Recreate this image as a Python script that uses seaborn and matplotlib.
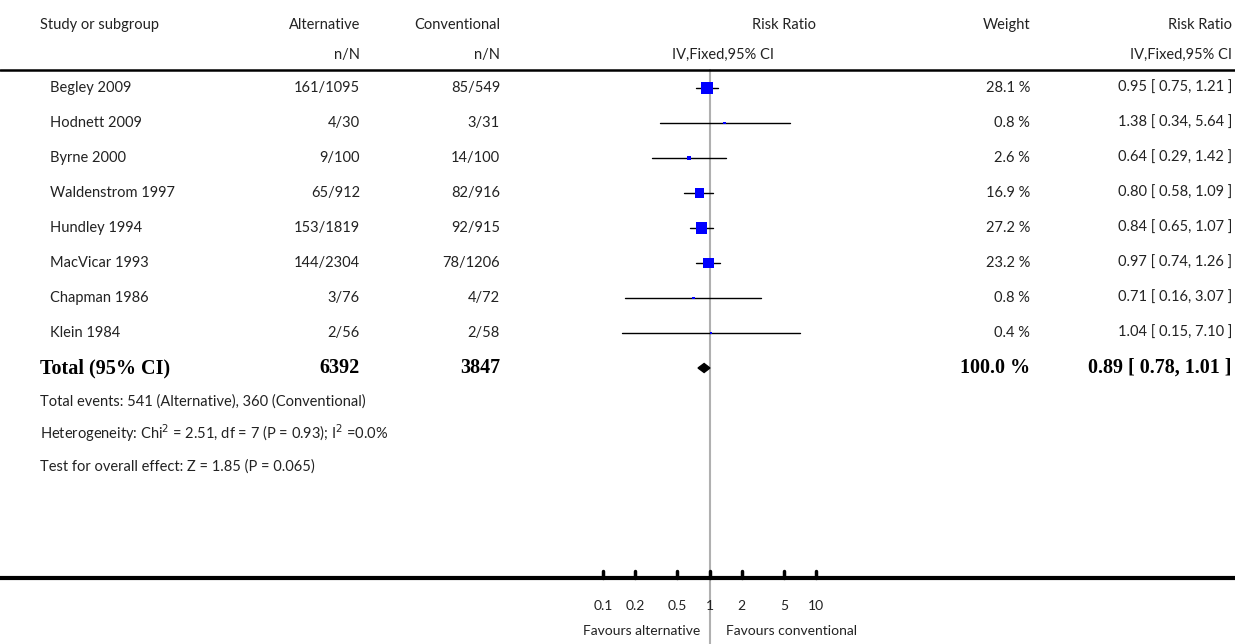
import numpy as np
import matplotlib
matplotlib.use('Agg')
import matplotlib.pyplot as plt
import seaborn as sns

sns.set_theme(style='white')
plt.rcParams['font.family'] = ['Lato', 'DejaVu Sans']

# Data
studies = ['Begley 2009', 'Hodnett 2009', 'Byrne 2000', 'Waldenstrom 1997',
           'Hundley 1994', 'MacVicar 1993', 'Chapman 1986', 'Klein 1984']
alt = ['161/1095', '4/30', '9/100', '65/912', '153/1819', '144/2304', '3/76', '2/56']
conv = ['85/549', '3/31', '14/100', '82/916', '92/915', '78/1206', '4/72', '2/58']
rr = [0.95, 1.38, 0.64, 0.80, 0.84, 0.97, 0.71, 1.04]
lo = [0.75, 0.34, 0.29, 0.58, 0.65, 0.74, 0.16, 0.15]
hi = [1.21, 5.64, 1.42, 1.09, 1.07, 1.26, 3.07, 7.10]
weight = [28.1, 0.8, 2.6, 16.9, 27.2, 23.2, 0.8, 0.4]
total_rr, total_lo, total_hi = 0.89, 0.78, 1.01
ticks = [0.1, 0.2, 0.5, 1, 2, 5, 10]
tick_labels = ['0.1', '0.2', '0.5', '1', '2', '5', '10']

W, H = 1235, 644
fig = plt.figure(figsize=(W / 100, H / 100), dpi=100)
ax = fig.add_axes([603 / W, 0, 213 / W, 1])
ax.set_xscale('log')
ax.set_xlim(0.1, 10)
ax.set_ylim(H, 0)
ax.axis('off')


def t(x, y, s, ha='left', **kw):
    kw.setdefault('fontsize', 10.5)
    kw.setdefault('color', '#222222')
    fig.text(x / W, 1 - y / H, s, ha=ha, va='center', **kw)


# Header
t(40, 25, 'Study or subgroup')
t(360, 25, 'Alternative', ha='right')
t(500, 25, 'Conventional', ha='right')
t(816, 25, 'Risk Ratio', ha='right')
t(1030, 25, 'Weight', ha='right')
t(1232, 25, 'Risk Ratio', ha='right')
t(360, 55, 'n/N', ha='right')
t(500, 55, 'n/N', ha='right')
t(774, 55, 'IV,Fixed,95% CI', ha='right')
t(1232, 55, 'IV,Fixed,95% CI', ha='right')

fig.add_artist(plt.Line2D([0, 1], [1 - 70 / H] * 2, color='black', lw=1.8))
ax.plot([1, 1], [70, H], color='#b0b0b0', lw=1.5, clip_on=False, zorder=1)

rows = 88 + 35 * np.arange(len(studies))
for i, y in enumerate(rows):
    t(50, y, studies[i])
    t(360, y, alt[i], ha='right')
    t(500, y, conv[i], ha='right')
    t(1030, y, f'{weight[i]:.1f} %', ha='right')
    t(1232, y, f'{rr[i]:.2f} [ {lo[i]:.2f}, {hi[i]:.2f} ]', ha='right')
    ax.plot([lo[i], hi[i]], [y, y], color='black', lw=1, zorder=2)
ax.scatter(rr, rows, marker='s', s=np.array(weight) * 2.6 + 1,
           color='#0000ff', edgecolor='none', zorder=3)

# Total
ty = 368
serif = dict(family=['Liberation Serif', 'DejaVu Serif'], fontweight='bold',
             fontsize=14.5, color='black')
t(40, ty, 'Total (95% CI)', **serif)
t(360, ty, '6392', ha='right', **serif)
t(500, ty, '3847', ha='right', **serif)
t(1030, ty, '100.0 %', ha='right', **serif)
t(1232, ty, f'{total_rr:.2f} [ {total_lo:.2f}, {total_hi:.2f} ]', ha='right', **serif)
ax.fill([total_lo, total_rr, total_hi, total_rr], [ty, ty - 4.5, ty, ty + 4.5],
        color='black', zorder=3)

t(40, 402, 'Total events: 541 (Alternative), 360 (Conventional)')
t(40, 433, r'Heterogeneity: Chi$^2$ = 2.51, df = 7 (P = 0.93); I$^2$ =0.0%')
t(40, 467, 'Test for overall effect: Z = 1.85 (P = 0.065)')

# Bottom axis
fig.add_artist(plt.Line2D([0, 1], [1 - 578 / H] * 2, color='black', lw=3))
for v, lab in zip(ticks, tick_labels):
    ax.plot([v, v], [578, 571], color='black', lw=2.5, clip_on=False)
    ax.text(v, 606, lab, ha='center', va='center', fontsize=10, color='#222222')
ax.text(0.81, 631, 'Favours alternative', ha='right', va='center', fontsize=10, color='#222222')
ax.text(1.43, 631, 'Favours conventional', ha='left', va='center', fontsize=10, color='#222222')

fig.savefig('out.png', dpi=100, facecolor='white')
